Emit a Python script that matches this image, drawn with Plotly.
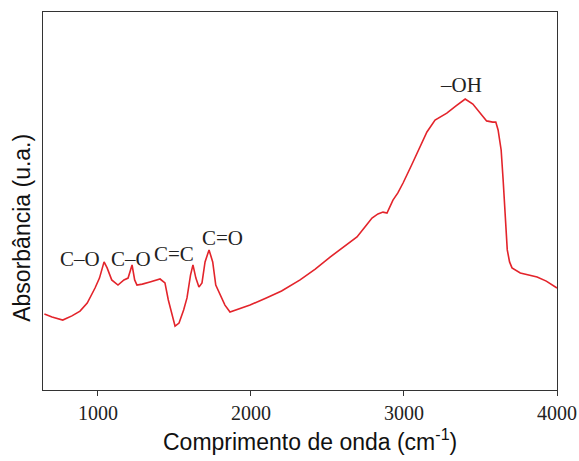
import plotly.graph_objects as go

# FTIR spectrum: wavenumber (cm^-1) and absorbance (arbitrary units)
wavenumber = [650, 700, 770, 830, 883, 930, 981, 1010, 1040, 1060, 1090, 1131, 1170, 1197,
              1223, 1240, 1255, 1290, 1340, 1406, 1438, 1460, 1504, 1530, 1560, 1582, 1605,
              1621, 1640, 1660, 1680, 1700, 1726, 1750, 1770, 1798, 1830, 1863, 1900, 1994,
              2100, 2200, 2321, 2420, 2517, 2610, 2693, 2750, 2791, 2830, 2863, 2889, 2928,
              2960, 2994, 3050, 3100, 3150, 3203, 3280, 3340, 3400, 3450, 3500, 3540, 3580,
              3600, 3615, 3635, 3648, 3665, 3675, 3690, 3706, 3760, 3870, 3930, 4000]
absorbance = [0.253, 0.243, 0.233, 0.247, 0.263, 0.290, 0.340, 0.373, 0.427, 0.407, 0.367,
              0.350, 0.367, 0.373, 0.417, 0.367, 0.350, 0.353, 0.360, 0.370, 0.357, 0.300,
              0.213, 0.223, 0.267, 0.307, 0.383, 0.417, 0.373, 0.343, 0.357, 0.427, 0.467,
              0.427, 0.350, 0.317, 0.283, 0.260, 0.267, 0.283, 0.307, 0.330, 0.367, 0.403,
              0.443, 0.477, 0.510, 0.547, 0.573, 0.587, 0.593, 0.590, 0.633, 0.657, 0.690,
              0.750, 0.807, 0.860, 0.900, 0.923, 0.947, 0.970, 0.953, 0.920, 0.897, 0.893,
              0.893, 0.867, 0.800, 0.700, 0.533, 0.467, 0.427, 0.407, 0.390, 0.377, 0.363,
              0.340]

# Band assignments
band_labels = ["C–O", "C–O", "C=C", "C=O", "–OH"]
band_x = [881, 1216, 1497, 1811, 3373]
band_y = [0.437, 0.437, 0.453, 0.507, 1.017]

tick_vals = [1000, 2000, 3000, 4000]
tick_text = ["1000", "2000", "3000", "4000"]

fig = go.Figure()
fig.add_trace(go.Scatter(
    x=wavenumber, y=absorbance, mode="lines",
    line=dict(color="#e3242b", width=1.6),
    showlegend=False, hoverinfo="skip",
))

for lab, bx, by in zip(band_labels, band_x, band_y):
    fig.add_annotation(x=bx, y=by, text=lab, showarrow=False,
                       xanchor="center", yanchor="middle",
                       font=dict(family="Liberation Serif", size=21, color="#222222"))

fig.add_annotation(xref="paper", yref="paper", x=0.519, y=-0.132,
                   xanchor="center", yanchor="middle",
                   text="Comprimento de onda (cm<sup>-1</sup>)", showarrow=False,
                   font=dict(family="Liberation Sans", size=23, color="#111111"))
fig.add_annotation(xref="paper", yref="paper", x=-0.041, y=0.429,
                   xanchor="center", yanchor="middle",
                   text="Absorbância (u.a.)", showarrow=False, textangle=-90,
                   font=dict(family="Liberation Sans", size=23, color="#111111"))

fig.update_xaxes(
    range=[641, 4000], tickvals=tick_vals, ticktext=tick_text,
    ticks="outside", ticklen=5, tickcolor="#333333", tickwidth=1,
    showline=True, linecolor="#333333", linewidth=1.2, mirror=True,
    showgrid=False, zeroline=False, automargin=False,
    tickfont=dict(family="Liberation Serif", size=20, color="#222222"),
)
fig.update_yaxes(
    range=[0, 1.26], showticklabels=False, ticks="",
    showline=True, linecolor="#333333", linewidth=1.2, mirror=True,
    showgrid=False, zeroline=False, automargin=False,
)
fig.update_layout(
    width=579, height=461,
    margin=dict(l=43, r=22, t=12, b=71),
    plot_bgcolor="white", paper_bgcolor="white",
)

fig.write_html("out.html")
